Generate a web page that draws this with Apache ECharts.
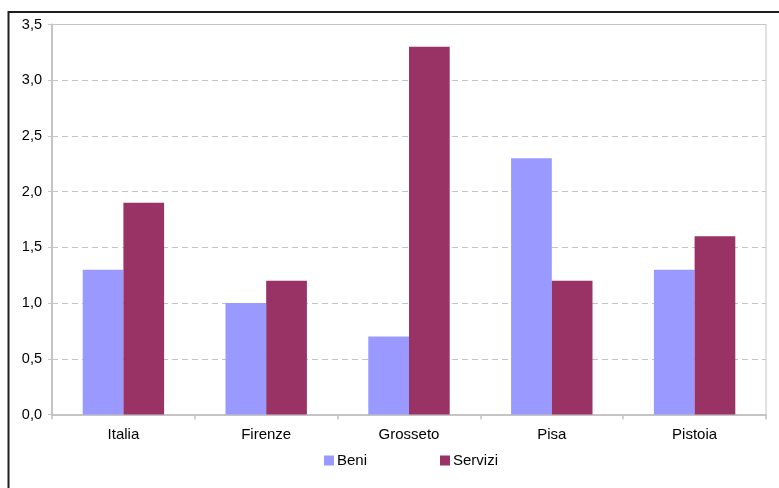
<!DOCTYPE html>
<html>
<head>
<meta charset="utf-8">
<script src="https://cdn.jsdelivr.net/npm/echarts@6/dist/echarts.min.js"></script>
<style>
  html, body { margin: 0; padding: 0; background: #fff; }
  #chart { width: 779px; height: 488px; }
</style>
</head>
<body>
<div id="chart"></div>
<script>
// Categories and series values
const categories = ['Italia', 'Firenze', 'Grosseto', 'Pisa', 'Pistoia'];
const beni = [1.3, 1.0, 0.7, 2.3, 1.3];
const servizi = [1.9, 1.2, 3.3, 1.2, 1.6];
const seriesNames = ['Beni', 'Servizi'];
const yTicks = [0, 0.5, 1.0, 1.5, 2.0, 2.5, 3.0, 3.5];

const FONT = '"Liberation Sans", Arial, sans-serif';
const GRAY = '#c4c4c4';

const chart = echarts.init(document.getElementById('chart'), null, { renderer: 'canvas' });

function legendFor(name, left) {
  return {
    data: [name], left: left, top: 453, padding: 0,
    itemWidth: 10, itemHeight: 10, icon: 'rect',
    textStyle: { fontFamily: FONT, fontSize: 15, color: '#000', padding: [0, 0, 0, -2] }
  };
}

chart.setOption({
  backgroundColor: '#ffffff',
  animation: false,
  grid: {
    left: 52, right: 13, top: 24.5, bottom: 73.5,
    show: true, borderColor: GRAY, borderWidth: 1, backgroundColor: 'transparent'
  },
  legend: [legendFor(seriesNames[0], 324), legendFor(seriesNames[1], 440)],
  xAxis: {
    type: 'category',
    data: categories,
    boundaryGap: true,
    axisLine: { lineStyle: { color: GRAY, width: 2 } },
    axisTick: { show: true, length: 5, lineStyle: { color: GRAY, width: 1.5 } },
    axisLabel: { fontFamily: FONT, fontSize: 15, color: '#000', margin: 13 }
  },
  yAxis: {
    type: 'value',
    min: yTicks[0],
    max: yTicks[yTicks.length - 1],
    interval: 0.5,
    axisLine: { show: true, lineStyle: { color: GRAY, width: 2 } },
    axisTick: { show: true, length: 4, lineStyle: { color: GRAY } },
    axisLabel: {
      fontFamily: FONT, fontSize: 14.5, color: '#000', margin: 10,
      formatter: v => v.toFixed(1).replace('.', ',')
    },
    splitLine: { show: true, lineStyle: { color: GRAY, type: [6, 4], width: 1 } }
  },
  series: [
    {
      name: seriesNames[0], type: 'bar', data: beni,
      barGap: '0%', barCategoryGap: '43%',
      itemStyle: { color: '#9999ff' }
    },
    {
      name: seriesNames[1], type: 'bar', data: servizi,
      barGap: '0%', barCategoryGap: '43%',
      itemStyle: { color: '#993366' }
    }
  ],
  graphic: [
    {
      type: 'rect', left: 6, top: 9.5, z: 100, silent: true,
      shape: { width: 820, height: 520 },
      style: { fill: 'none', stroke: '#1e1e1e', lineWidth: 2 }
    }
  ]
});
</script>
</body>
</html>
